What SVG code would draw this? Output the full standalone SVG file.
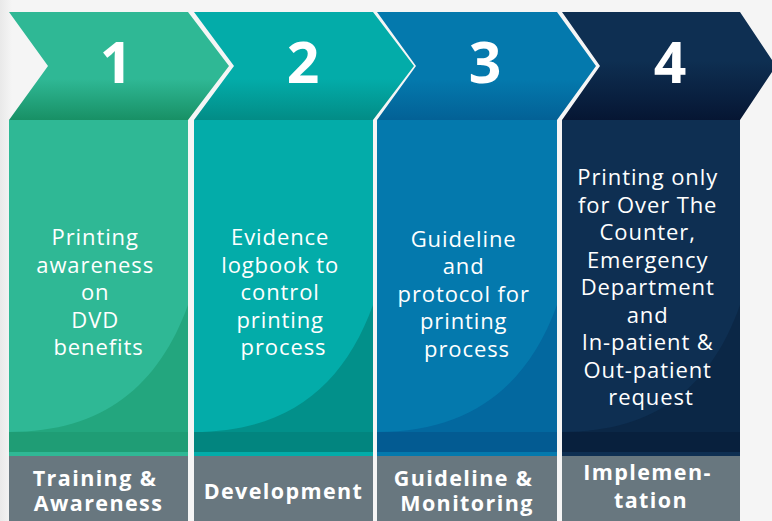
<svg xmlns="http://www.w3.org/2000/svg" width="772" height="521" viewBox="0 0 772 521">
  <style>
    .num { font-family: "Open Sans", "Liberation Sans", sans-serif; font-weight: 700; font-size: 57px; fill: #ffffff; text-anchor: middle; }
    .body { font-family: "Open Sans", "Liberation Sans", sans-serif; font-size: 22px; fill: #ffffff; text-anchor: middle; letter-spacing: 0.9px; }
    .label { font-family: "Open Sans", "Liberation Sans", sans-serif; font-weight: 700; font-size: 21.5px; fill: #ffffff; text-anchor: middle; letter-spacing: 1.4px; }
    .plate { fill: #68777f; }
  </style>
  <defs>
    <linearGradient id="bgEdge" x1="0" y1="0" x2="1" y2="0">
      <stop offset="0" stop-color="#e9e9e9"/>
      <stop offset="1" stop-color="#f5f5f5"/>
    </linearGradient>
    <linearGradient id="chev1" x1="0" y1="12" x2="0" y2="120" gradientUnits="userSpaceOnUse">
      <stop offset="0.62" stop-color="#2fb895"/>
      <stop offset="1" stop-color="#189065"/>
    </linearGradient>
    <linearGradient id="chev2" x1="0" y1="12" x2="0" y2="120" gradientUnits="userSpaceOnUse">
      <stop offset="0.62" stop-color="#03aca9"/>
      <stop offset="1" stop-color="#028c86"/>
    </linearGradient>
    <linearGradient id="chev3" x1="0" y1="12" x2="0" y2="120" gradientUnits="userSpaceOnUse">
      <stop offset="0.62" stop-color="#0479ad"/>
      <stop offset="1" stop-color="#036196"/>
    </linearGradient>
    <linearGradient id="chev4" x1="0" y1="12" x2="0" y2="120" gradientUnits="userSpaceOnUse">
      <stop offset="0.45" stop-color="#0e2f52"/>
      <stop offset="1" stop-color="#061633"/>
    </linearGradient>
  </defs>

  <!-- page -->
  <rect x="0" y="0" width="772" height="521" fill="#f5f5f5"/>
  <rect x="0" y="0" width="12" height="521" fill="url(#bgEdge)"/>

  <!-- step 1 -->
  <g id="step1">
    <path d="M9,12 H188 L229,66 L188,120 H9 L48,66 Z" fill="url(#chev1)"/>
    <rect x="9" y="120" width="179" height="332" fill="#2fb895"/>
    <path d="M9,432 C104,432 159,385 188,305 V452 H9 Z" fill="#23a67e"/>
    <rect x="9" y="432" width="179" height="20" fill="#1f9d75"/>
    <rect x="9" y="452" width="179" height="4" fill="#2fb895"/>
    <rect class="plate" x="9" y="456" width="179" height="65"/>
    <text class="num" x="116" y="83">1</text>
    <text class="body" x="98.5" y="245">
      <tspan x="98.5">Printing</tspan>
      <tspan x="98.5" dy="27.5">awareness</tspan>
      <tspan x="98.5" dy="27.5">on</tspan>
      <tspan x="98.5" dy="27.5">DVD</tspan>
      <tspan x="98.5" dy="27.5">benefits</tspan>
    </text>
    <text class="label" x="98.5" y="486">
      <tspan x="98.5">Training &amp;</tspan>
      <tspan x="98.5" dy="25">Awareness</tspan>
    </text>
  </g>

  <!-- step 2 -->
  <g id="step2">
    <path d="M194,12 H373 L414,66 L373,120 H194 L234,66 Z" fill="url(#chev2)"/>
    <rect x="194" y="120" width="179" height="332" fill="#03aca9"/>
    <path d="M194,432 C289,432 344,385 373,305 V452 H194 Z" fill="#02908a"/>
    <rect x="194" y="432" width="179" height="20" fill="#02857f"/>
    <rect x="194" y="452" width="179" height="4" fill="#03aca9"/>
    <rect class="plate" x="194" y="456" width="179" height="65"/>
    <text class="num" x="303" y="83">2</text>
    <text class="body" x="283.5" y="245">
      <tspan x="283.5">Evidence</tspan>
      <tspan x="283.5" dy="27.5">logbook to</tspan>
      <tspan x="283.5" dy="27.5">control</tspan>
      <tspan x="283.5" dy="27.5">printing</tspan>
      <tspan x="283.5" dy="27.5">process</tspan>
    </text>
    <text class="label" x="283.5" y="499">Development</text>
  </g>

  <!-- step 3 -->
  <g id="step3">
    <path d="M377,12 H557 L596,66 L557,120 H377 L416,66 Z" fill="url(#chev3)"/>
    <rect x="377" y="120" width="180" height="332" fill="#0479ad"/>
    <path d="M377,432 C472,432 528,385 557,305 V452 H377 Z" fill="#03689f"/>
    <rect x="377" y="432" width="180" height="20" fill="#035b92"/>
    <rect x="377" y="452" width="180" height="4" fill="#0479ad"/>
    <rect class="plate" x="377" y="456" width="180" height="65"/>
    <text class="num" x="485" y="83">3</text>
    <text class="body" x="467" y="246.5">
      <tspan x="467">Guideline</tspan>
      <tspan x="467" dy="27.6">and</tspan>
      <tspan x="467" dy="27.6">protocol for</tspan>
      <tspan x="467" dy="27.6">printing</tspan>
      <tspan x="467" dy="27.6">process</tspan>
    </text>
    <text class="label" x="467" y="486">
      <tspan x="467">Guideline &amp;</tspan>
      <tspan x="467" dy="25">Monitoring</tspan>
    </text>
  </g>

  <!-- step 4 -->
  <g id="step4">
    <path d="M562,12 H740 L776,66 L740,120 H562 L600,66 Z" fill="url(#chev4)"/>
    <rect x="562" y="120" width="178" height="332" fill="#0e2f52"/>
    <path d="M562,432 C657,432 712,385 740,305 V452 H562 Z" fill="#0b2746"/>
    <rect x="562" y="432" width="178" height="20" fill="#08203d"/>
    <rect x="562" y="452" width="178" height="4" fill="#0e2f52"/>
    <rect class="plate" x="562" y="456" width="178" height="65"/>
    <text class="num" x="670" y="83">4</text>
    <text class="body" x="651" y="185">
      <tspan x="651">Printing only</tspan>
      <tspan x="651" dy="27.5">for Over The</tspan>
      <tspan x="651" dy="27.5">Counter,</tspan>
      <tspan x="651" dy="27.5">Emergency</tspan>
      <tspan x="651" dy="27.5">Department</tspan>
      <tspan x="651" dy="27.5">and</tspan>
      <tspan x="651" dy="27.5">In-patient &amp;</tspan>
      <tspan x="651" dy="27.5">Out-patient</tspan>
      <tspan x="651" dy="27.5">request</tspan>
    </text>
    <text class="label" x="651" y="480">
      <tspan x="651">Implemen-</tspan>
      <tspan x="651" dy="28">tation</tspan>
    </text>
  </g>

  <!-- sequence flows left to right through the chevron tips; no separate connector lines -->
  <g id="connectors"/>
</svg>
